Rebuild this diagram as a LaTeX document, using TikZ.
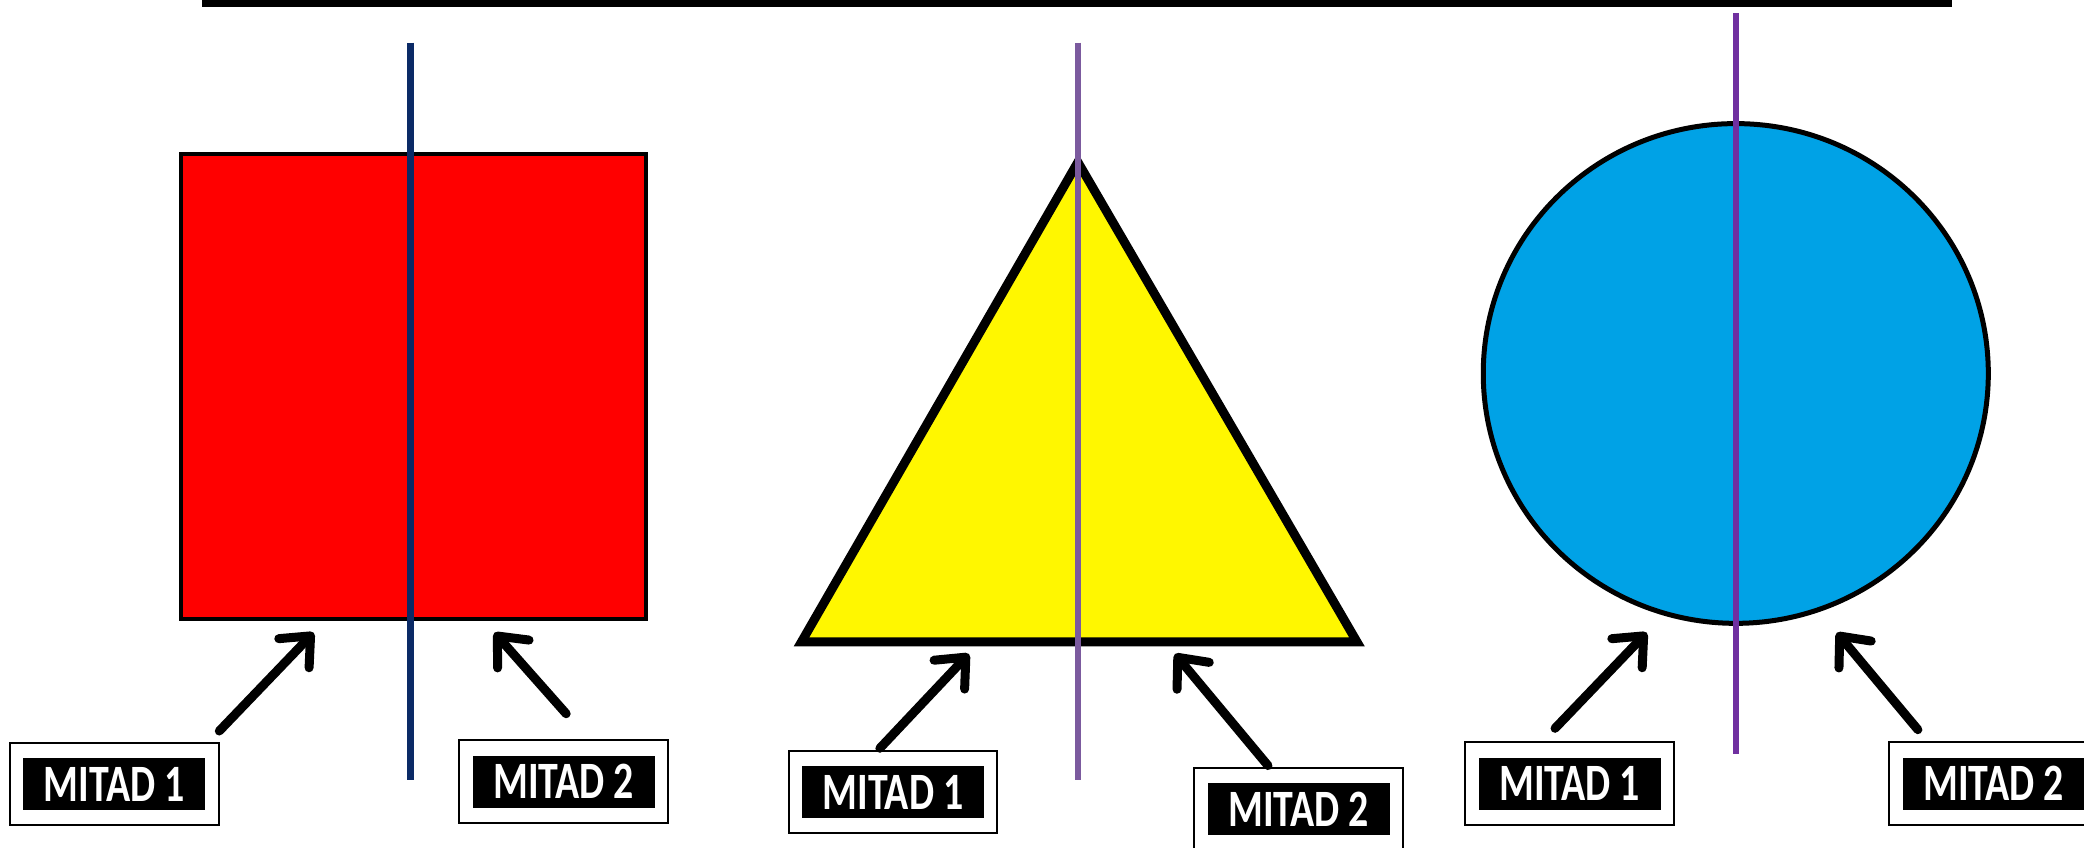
\documentclass[tikz,border=0pt]{standalone}
\usepackage{fontspec}
\setmainfont{Carlito}
\usetikzlibrary{arrows.meta,fit}
\definecolor{sqred}{HTML}{FF0000}
\definecolor{navyline}{HTML}{0B2A66}
\definecolor{triyellow}{HTML}{FFF700}
\definecolor{triline}{HTML}{7B5A9E}
\definecolor{circblue}{HTML}{00A2E6}
\definecolor{circline}{HTML}{7030A0}
\newcommand{\labtext}[1]{\scalebox{0.95}[1.25]{#1}}
\tikzset{
  lab/.style={fill=black,text=white,inner sep=0pt,minimum width=182pt,minimum height=52pt,
    font=\fontsize{42}{50}\selectfont\bfseries},
  labframe/.style={draw=black,line width=2pt,inner xsep=13pt,inner ysep=15pt},
  pointer/.style={line width=9pt,black,line cap=round,
    -{Straight Barb[length=24pt,width=42pt,line cap=round,line join=round]}},
  axis/.style={line width=6.5pt},
}
\begin{document}
\begin{tikzpicture}[x=1.329pt,y=-1.329pt]
\useasboundingbox (0,0) rectangle (1568,638);
% top bar
\fill[black] (152,-1) rectangle (1469,5);

% square
\draw[fill=sqred,line width=4pt] (136,116) rectangle (486,466);
\draw[axis,navyline] (309,32) -- (309,587);

% triangle
\draw[fill=triyellow,line width=9pt,line join=miter] (811,122) -- (603,483) -- (1021,483) -- cycle;
\draw[axis,triline] (811,32) -- (811,587);

% circle
\draw[fill=circblue,line width=5pt] (1306,281) ellipse [x radius=190,y radius=188];
\draw[axis,circline] (1306,10) -- (1306,567);

% labels
\node[lab] (sq1) at (86,590) {\labtext{MITAD 1}};
\node[labframe,fit=(sq1)] (fsq1) {};
\node[lab] (sq2) at (424,588) {\labtext{MITAD 2}};
\node[labframe,fit=(sq2)] (fsq2) {};
\node[lab] (tr1) at (672,596) {\labtext{MITAD 1}};
\node[labframe,fit=(tr1)] (ftr1) {};
\node[lab] (tr2) at (977,609) {\labtext{MITAD 2}};
\node[labframe,fit=(tr2)] (ftr2) {};
\node[lab] (ci1) at (1181,589.5) {\labtext{MITAD 1}};
\node[labframe,fit=(ci1)] (fci1) {};
\node[lab] (ci2) at (1500,589.5) {\labtext{MITAD 2}};
\node[labframe,fit=(ci2)] (fci2) {};

% arrow ends
\coordinate (sqa1s) at (165,550); \coordinate (sqa1e) at (236,476);
\coordinate (sqa2s) at (426,537); \coordinate (sqa2e) at (372,476);
\coordinate (tra1s) at (662,563); \coordinate (tra1e) at (729,492);
\coordinate (tra2s) at (954,576); \coordinate (tra2e) at (884,492);
\coordinate (cia1s) at (1170,548); \coordinate (cia1e) at (1239,476);
\coordinate (cia2s) at (1443,549); \coordinate (cia2e) at (1382,476);

\draw[pointer] (sqa1s) -- (sqa1e);
\draw[pointer] (sqa2s) -- (sqa2e);
\draw[pointer] (tra1s) -- (tra1e);
\draw[pointer] (tra2s) -- (tra2e);
\draw[pointer] (cia1s) -- (cia1e);
\draw[pointer] (cia2s) -- (cia2e);
\end{tikzpicture}
\end{document}
